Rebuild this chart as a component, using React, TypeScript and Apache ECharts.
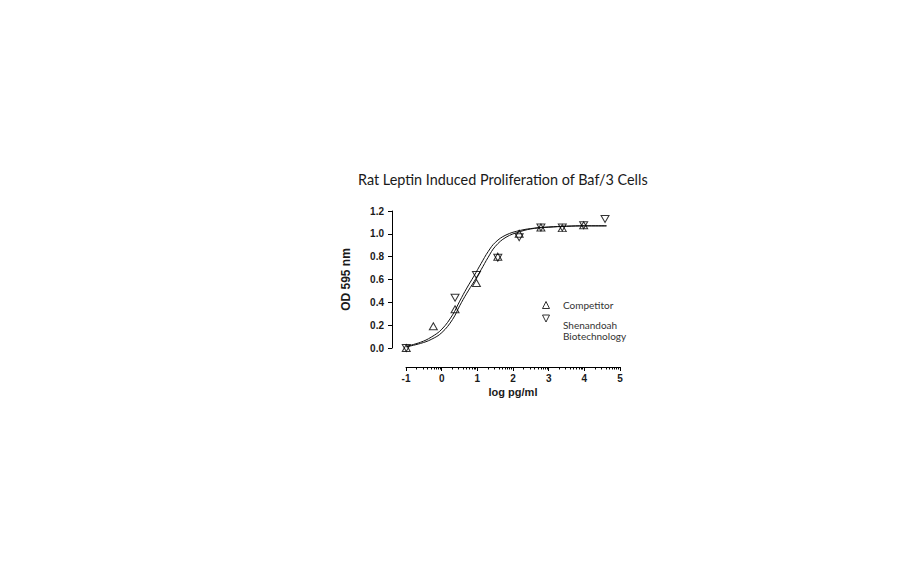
import React, { useEffect, useRef } from "react";
import * as echarts from "echarts";

// ---- data ----
const X_COMPETITOR = [-1, -0.24, 0.37, 0.97, 1.57, 2.17, 2.78, 3.38, 3.98];
const Y_COMPETITOR = [0.0, 0.19, 0.34, 0.57, 0.8, 1.0, 1.055, 1.05, 1.075];

const X_SHENANDOAH = [-1, 0.37, 0.97, 1.57, 2.17, 2.78, 3.38, 3.98, 4.58];
const Y_SHENANDOAH = [0.0, 0.44, 0.64, 0.79, 0.97, 1.055, 1.055, 1.075, 1.13];

// fitted curves
const CURVE_X = [-1.0, -0.6, -0.3, 0.0, 0.3, 0.5, 0.7, 0.9, 1.1, 1.3, 1.5, 1.8, 2.2, 2.6, 3.0, 3.5, 4.0, 4.62];
const CURVE_SHENANDOAH = [0.015, 0.05, 0.095, 0.165, 0.29, 0.41, 0.525, 0.63, 0.74, 0.845, 0.925, 0.99, 1.03, 1.05, 1.06, 1.067, 1.07, 1.07];
const CURVE_COMPETITOR = [0.01, 0.04, 0.075, 0.135, 0.25, 0.37, 0.48, 0.58, 0.685, 0.795, 0.89, 0.97, 1.02, 1.048, 1.058, 1.066, 1.07, 1.07];

const Y_MIN = 0;
const Y_MAX = 1.2;
const Y_INTERVAL = 0.2;
const X_MIN = -1;
const X_MAX = 5;
const X_INTERVAL = 1;
const LOG_MINOR_FACTORS = [2, 3, 4, 5, 6, 7, 8, 9];

const TITLE = "Rat Leptin Induced Proliferation of Baf/3 Cells";
const X_NAME = "log pg/ml";
const Y_NAME = "OD 595 nm";
const NAME_COMP = "Competitor";
const NAME_SHEN = "Shenandoah Biotechnology";

const pairs = (xs: number[], ys: number[]) => xs.map((x, i) => [x, ys[i]]);

const UP_TRI = "path://M5,0L10,10L0,10Z";
const DOWN_TRI = "path://M0,0L10,0L5,10Z";

export default function App() {
  const ref = useRef<HTMLDivElement>(null);

  useEffect(() => {
    if (!ref.current) return;
    const chart = echarts.init(ref.current, undefined, { renderer: "svg" });

    const minorTicks: number[] = [];
    for (let d = X_MIN; d < X_MAX; d++) {
      LOG_MINOR_FACTORS.forEach((k) => minorTicks.push(d + Math.log10(k)));
    }

    const labelFont = "'Liberation Sans', Arial, sans-serif";
    const softFont = "Lato, 'Open Sans', sans-serif";
    const hollow = { color: "rgba(255,255,255,0)", borderColor: "#000", borderWidth: 1 };

    const option: any = {
      animation: false,
      backgroundColor: "#ffffff",
      title: {
        text: TITLE,
        left: 358,
        top: 172,
        padding: 0,
        textStyle: {
          fontFamily: softFont,
          fontWeight: "normal",
          fontSize: 14.4,
          color: "#1a1a1a",
        },
      },
      legend: [
        {
          data: [{ name: NAME_COMP, icon: UP_TRI }],
          left: 542,
          top: 300,
          padding: 0,
          itemWidth: 8,
          itemHeight: 7,
          itemStyle: hollow,
          textStyle: {
            fontFamily: softFont,
            fontSize: 10,
            color: "#333",
            padding: [0, 0, 0, 8],
          },
        },
        {
          data: [{ name: NAME_SHEN, icon: DOWN_TRI }],
          left: 542,
          top: 314.5,
          padding: 0,
          itemWidth: 8,
          itemHeight: 7,
          itemStyle: hollow,
          formatter: () => "",
        },
      ],
      graphic: [
        {
          type: "text",
          left: 563,
          top: 319.5,
          silent: true,
          style: {
            text: NAME_SHEN.split(" ").join("\n"),
            fontFamily: softFont,
            fontSize: 10,
            lineHeight: 11,
            fill: "#333",
          },
        },
      ],
      grid: [
        { left: 392, right: 292, top: 211, height: 137, containLabel: false },
        { left: 406, right: 292, top: 211, height: 156, containLabel: false },
      ],
      xAxis: [
        {
          gridIndex: 0,
          type: "value",
          min: -1.4,
          max: X_MAX,
          show: false,
        },
        {
          gridIndex: 1,
          type: "value",
          position: "bottom",
          min: X_MIN,
          max: X_MAX,
          interval: X_INTERVAL,
          name: X_NAME,
          nameLocation: "middle",
          nameGap: 19,
          nameTextStyle: {
            fontFamily: labelFont,
            fontWeight: "bold",
            fontSize: 11,
            color: "#1a1a1a",
          },
          axisLine: { show: true, onZero: false, lineStyle: { color: "#000", width: 1 } },
          axisTick: { show: true, length: 4, lineStyle: { color: "#000" } },
          splitLine: { show: false },
          axisLabel: {
            margin: 6,
            fontFamily: labelFont,
            fontWeight: "bold",
            fontSize: 10,
            color: "#1a1a1a",
          },
        },
        {
          gridIndex: 1,
          type: "value",
          position: "bottom",
          min: X_MIN,
          max: X_MAX,
          axisLine: { show: false, onZero: false },
          axisTick: {
            show: true,
            length: 2.5,
            customValues: minorTicks,
            lineStyle: { color: "#000" },
          },
          axisLabel: { show: false },
          splitLine: { show: false },
        },
      ],
      yAxis: [
        {
          gridIndex: 0,
          type: "value",
          position: "left",
          min: Y_MIN,
          max: Y_MAX,
          interval: Y_INTERVAL,
          name: Y_NAME,
          nameLocation: "middle",
          nameGap: 40,
          nameRotate: 90,
          nameTextStyle: {
            fontFamily: labelFont,
            fontWeight: "bold",
            fontSize: 12,
            color: "#1a1a1a",
          },
          axisLine: { show: true, onZero: false, lineStyle: { color: "#000", width: 1 } },
          axisTick: { show: true, length: 4, lineStyle: { color: "#000" } },
          splitLine: { show: false },
          axisLabel: {
            margin: 8,
            fontFamily: labelFont,
            fontWeight: "bold",
            fontSize: 10,
            color: "#1a1a1a",
            formatter: (v: number) => v.toFixed(1),
          },
        },
        { gridIndex: 1, type: "value", show: false, min: 0, max: 1 },
      ],
      series: [
        {
          name: "curveShen",
          type: "line",
          xAxisIndex: 0,
          yAxisIndex: 0,
          data: pairs(CURVE_X, CURVE_SHENANDOAH),
          smooth: 0.4,
          showSymbol: false,
          symbol: "none",
          lineStyle: { color: "#111", width: 1 },
          silent: true,
          z: 1,
        },
        {
          name: "curveComp",
          type: "line",
          xAxisIndex: 0,
          yAxisIndex: 0,
          data: pairs(CURVE_X, CURVE_COMPETITOR),
          smooth: 0.4,
          showSymbol: false,
          symbol: "none",
          lineStyle: { color: "#111", width: 1 },
          silent: true,
          z: 1,
        },
        {
          name: NAME_COMP,
          type: "scatter",
          xAxisIndex: 0,
          yAxisIndex: 0,
          data: pairs(X_COMPETITOR, Y_COMPETITOR),
          symbol: UP_TRI,
          symbolSize: [8, 7],
          itemStyle: hollow,
          z: 3,
        },
        {
          name: NAME_SHEN,
          type: "scatter",
          xAxisIndex: 0,
          yAxisIndex: 0,
          data: pairs(X_SHENANDOAH, Y_SHENANDOAH),
          symbol: DOWN_TRI,
          symbolSize: [8, 7],
          itemStyle: hollow,
          z: 3,
        },
      ],
    };

    chart.setOption(option);
    return () => chart.dispose();
  }, []);

  return (
    <div
      ref={ref}
      style={{ position: "fixed", left: 0, top: 0, width: 912, height: 562, background: "#fff" }}
    />
  );
}
